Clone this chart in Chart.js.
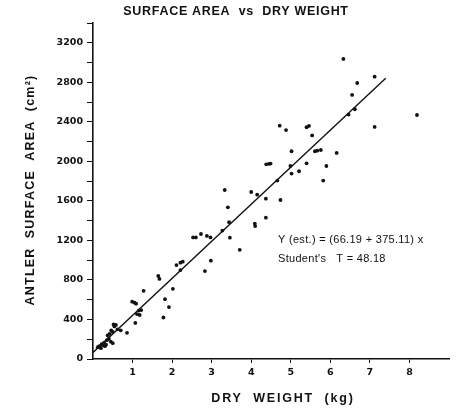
<!DOCTYPE html>
<html>
<head>
<meta charset="utf-8">
<script src="https://cdn.jsdelivr.net/npm/chart.js@4"></script>
<style>
  html, body { margin: 0; padding: 0; background: #fff; }
</style>
</head>
<body>
<canvas id="chart" width="457" height="410"></canvas>
<script>
// dry weight (kg) of each antler
const weightKg = [
  0.12, 0.16, 0.20, 0.22, 0.25, 0.28, 0.30, 0.33, 0.35, 0.37, 0.40, 0.42, 0.45, 0.46, 0.50, 0.50,
  0.52, 0.54, 0.58, 0.62, 0.70, 0.86,
  0.99, 1.05, 1.09, 1.07, 1.11, 1.16, 1.18, 1.22, 1.28,
  1.65, 1.68, 1.78, 1.82, 1.92, 2.02, 2.11, 2.21, 2.27, 2.21,
  2.53, 2.60, 2.73, 2.83, 2.88, 2.97, 2.98,
  3.27, 3.33, 3.41, 3.44, 3.46, 3.71,
  4.00, 4.09, 4.10, 4.15, 4.37, 4.37, 4.38, 4.45, 4.49, 4.66, 4.72, 4.74, 4.88, 4.99,
  5.02, 5.02, 5.21, 5.40, 5.46, 5.40, 5.54, 5.61, 5.67, 5.76, 5.82, 5.90,
  6.16, 6.33, 6.46, 6.55, 6.62, 6.68, 7.12, 7.12, 8.19
];
// surface area (cm2) for the same antlers
const areaCm2 = [
  120, 130, 110, 150, 140, 165, 130, 145, 190, 240, 205, 255, 175, 290, 275, 160,
  350, 330, 345, 300, 290, 265,
  580, 570, 560, 365, 455, 490, 445, 495, 690,
  840, 810, 420, 605, 525, 710, 950, 975, 985, 900,
  1230, 1230, 1265, 890, 1245, 1230, 995,
  1300, 1710, 1535, 1385, 1228, 1105,
  1690, 1370, 1345, 1663, 1622, 1430, 1970, 1975, 1978, 1805, 2361, 1609, 2317, 1953,
  2102, 1876, 1900, 2345, 2358, 1980, 2262, 2102, 2108, 2115, 1805, 1953,
  2085, 3036, 2473, 2672, 2527, 2793, 2857, 2348, 2469
];
// ends of the fitted line
const fitX = [0, 7.4];
const fitY = [66, 2842];

const xTickLabels = [1, 2, 3, 4, 5, 6, 7, 8];
const yTickLabels = [0, 400, 800, 1200, 1600, 2000, 2400, 2800, 3200];

const chartTitle = 'SURFACE AREA  vs  DRY WEIGHT';
const xTitle = 'DRY  WEIGHT  (kg)';
const yTitle = 'ANTLER  SURFACE  AREA  (cm²)';
const noteLines = ['Y (est.) = (66.19 + 375.11) x', "Student's   T = 48.18"];

const tickFont = { family: 'DejaVu Sans', size: 9.5, weight: 'bold' };

const textPlugin = {
  id: 'texts',
  afterDraw(chart) {
    const ctx = chart.ctx;
    ctx.save();
    ctx.fillStyle = '#111';
    ctx.textBaseline = 'middle';

    ctx.font = 'bold 12.5px "Liberation Sans"';
    ctx.letterSpacing = '0.7px';
    ctx.textAlign = 'center';
    ctx.fillText(chartTitle, 236, 12);

    ctx.letterSpacing = '1.8px';
    ctx.fillText(xTitle, 283, 399);

    ctx.save();
    ctx.translate(31, 190);
    ctx.rotate(-Math.PI / 2);
    ctx.letterSpacing = '1.2px';
    ctx.fillText(yTitle, 0, 0);
    ctx.restore();

    ctx.letterSpacing = '0.3px';
    ctx.textAlign = 'left';
    ctx.font = '11px "Liberation Sans"';
    ctx.fillText(noteLines[0], 278, 240);
    ctx.fillText(noteLines[1], 278, 259);
    ctx.restore();
  }
};

new Chart(document.getElementById('chart'), {
  type: 'scatter',
  data: {
    datasets: [
      {
        label: 'Antlers',
        data: weightKg.map((x, i) => ({ x: x, y: areaCm2[i] })),
        backgroundColor: '#111',
        borderColor: '#111',
        pointRadius: 1.9,
        pointBorderWidth: 0
      },
      {
        label: 'Fit',
        type: 'line',
        data: fitX.map((x, i) => ({ x: x, y: fitY[i] })),
        borderColor: '#111',
        borderWidth: 1.4,
        pointRadius: 0,
        fill: false
      }
    ]
  },
  options: {
    responsive: false,
    animation: false,
    layout: { padding: { top: 23, right: 8, left: 0, bottom: 0 } },
    plugins: {
      legend: { display: false },
      tooltip: { enabled: false }
    },
    scales: {
      x: {
        type: 'linear',
        min: 0,
        max: 9,
        afterFit: (scale) => { scale.height = 51; },
        border: { display: true, color: '#111', width: 1.6 },
        grid: {
          drawOnChartArea: false,
          drawTicks: true,
          tickLength: 4,
          color: (c) => (c.tick && xTickLabels.includes(c.tick.value)) ? '#111' : 'rgba(0,0,0,0)'
        },
        ticks: {
          stepSize: 1,
          autoSkip: false,
          maxRotation: 0,
          padding: 4,
          color: '#111',
          font: tickFont,
          callback: (v) => xTickLabels.includes(v) ? String(v) : ''
        }
      },
      y: {
        min: 0,
        max: 3400,
        afterFit: (scale) => { scale.width = 93; },
        border: { display: true, color: '#111', width: 1.6 },
        grid: {
          drawOnChartArea: false,
          drawTicks: true,
          tickLength: 6,
          color: '#111'
        },
        ticks: {
          stepSize: 200,
          autoSkip: false,
          padding: 4,
          color: '#111',
          font: tickFont,
          callback: (v) => yTickLabels.includes(v) ? String(v) : ''
        }
      }
    }
  },
  plugins: [textPlugin]
});
</script>
</body>
</html>
